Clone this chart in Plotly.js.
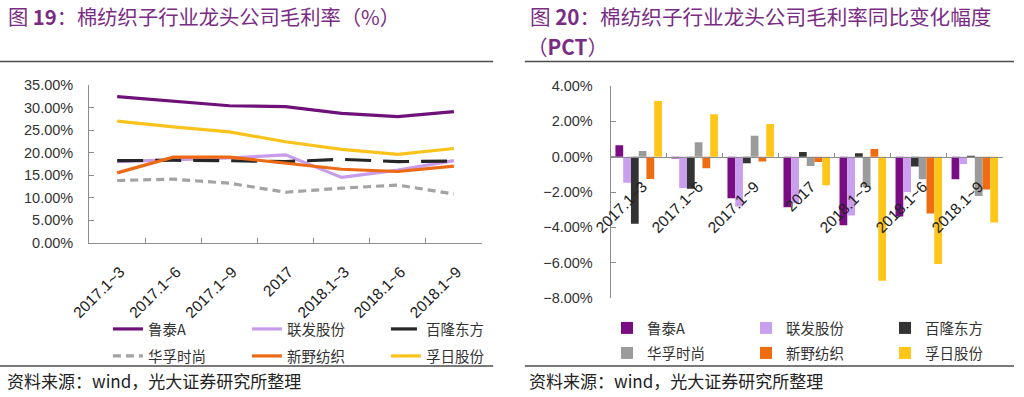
<!DOCTYPE html>
<html>
<head>
<meta charset="utf-8">
<script src="https://cdn.plot.ly/plotly-3.0.1.min.js"></script>
<style>html,body{margin:0;padding:0;background:#fff;}#chart{width:1024px;height:397px;}</style>
</head>
<body>
<div id="chart"></div>
<script>
// ---------- data ----------
const periods = ['2017.1~3', '2017.1~6', '2017.1~9', '2017', '2018.1~3', '2018.1~6', '2018.1~9'];
const companies = ['鲁泰A', '联发股份', '百隆东方', '华孚时尚', '新野纺织', '孚日股份'];

// gross margin (%)
const luTai  = [32.4, 31.4, 30.4, 30.2, 28.7, 28.0, 29.1];
const lianFa = [18.0, 18.4, 18.8, 19.5, 14.5, 16.1, 18.2];
const baiLong = [18.2, 18.3, 18.2, 18.0, 18.5, 18.0, 18.1];
const huaFu  = [13.8, 14.1, 13.2, 11.2, 12.1, 12.8, 10.8];
const xinYe  = [15.5, 19.0, 19.0, 17.6, 16.3, 15.8, 17.0];
const fuRi   = [27.0, 25.7, 24.6, 22.4, 20.7, 19.6, 20.9];

// YoY change of gross margin (pct)
const luTaiChg  = [0.65, -0.11, -2.35, -2.86, -3.88, -3.39, -1.28];
const lianFaChg = [-1.47, -1.78, -2.82, -2.63, -3.33, -2.00, -0.41];
const baiLongChg = [-3.80, -1.82, -0.37, 0.27, 0.20, -0.56, 0.05];
const huaFuChg  = [0.32, 0.81, 1.19, -0.53, -1.71, -1.28, -2.22];
const xinYeChg  = [-1.26, -0.66, -0.28, -0.30, 0.43, -3.22, -1.86];
const fuRiChg   = [3.15, 2.40, 1.85, -1.62, -7.02, -6.08, -3.73];

const titleLeft = '图 <b>19</b>：棉纺织子行业龙头公司毛利率（%）';
const titleRight1 = '图 <b>20</b>：棉纺织子行业龙头公司毛利率同比变化幅度';
const titleRight2 = '（<b>PCT</b>）';
const sourceText = '资料来源：wind，光大证券研究所整理';

// ---------- styling ----------
const W = 1024, H = 397;
const px = v => v / W;
const py = v => 1 - v / H;
const FONT = 'Liberation Sans, Arial, Noto Sans CJK SC, sans-serif';
const CJK = 'Noto Sans CJK SC, Liberation Sans, sans-serif';
const lineColors = ['#6E1279', '#C89CEB', '#262626', '#A3A3A3', '#EC6A14', '#F9C31B'];
const barColors  = ['#7A0C84', '#C9A0EE', '#333333', '#9B9B9B', '#EF6C10', '#FFC61A'];
const lineDash = ['solid', 'solid', '26px,12px', '8px,5px', 'solid', 'solid'];
const lineSeries = [luTai, lianFa, baiLong, huaFu, xinYe, fuRi];
const barSeries = [luTaiChg, lianFaChg, baiLongChg, huaFuChg, xinYeChg, fuRiChg];

const traces = [];
lineSeries.forEach((ys, i) => {
  traces.push({
    type: 'scatter', mode: 'lines', name: companies[i],
    x: periods, y: ys, xaxis: 'x', yaxis: 'y',
    line: {color: lineColors[i], width: 3.2, dash: lineDash[i]},
    legend: i < 3 ? 'legend' : 'legend2',
    hoverinfo: 'skip'
  });
});
barSeries.forEach((ys, i) => {
  traces.push({
    type: 'bar', name: companies[i],
    x: periods, y: ys, xaxis: 'x2', yaxis: 'y2',
    marker: {color: barColors[i]},
    legend: i < 3 ? 'legend3' : 'legend4',
    hoverinfo: 'skip'
  });
});

const axisColor = '#8C8C8C';
const tickFont = {family: FONT, size: 14.5, color: '#333333'};
const xTickFont = {family: FONT, size: 15.5, color: '#222222'};

const yDomL = [py(242.7), py(85)];
const yDomR = [py(298), py(86)];
const zeroPos = yDomR[0] + (8 / 12) * (yDomR[1] - yDomR[0]);

function legendCfg(x, y) {
  return {
    orientation: 'h', x: x, y: y, xanchor: 'left', yanchor: 'middle',
    font: {family: CJK, size: 14.5, color: '#333333'},
    bgcolor: 'rgba(0,0,0,0)', borderwidth: 0,
    entrywidth: 94, entrywidthmode: 'pixels', traceorder: 'normal'
  };
}

const layout = {
  width: W, height: H,
  margin: {l: 0, r: 0, t: 0, b: 0},
  paper_bgcolor: '#ffffff', plot_bgcolor: 'rgba(0,0,0,0)',
  font: {family: FONT, color: '#333333'},
  barmode: 'group', bargap: 0.17, bargroupgap: 0,
  xaxis: {
    domain: [px(90), px(486.7)], anchor: 'y', type: 'category', range: [-0.5, 6.5],
    showline: true, linecolor: axisColor, linewidth: 1,
    ticks: 'inside', ticklen: 5, tickcolor: axisColor, tickson: 'boundaries',
    tickangle: -45, tickfont: xTickFont, ticklabelstandoff: 13, ticklabelshift: 3,
    showgrid: false, zeroline: false, fixedrange: true
  },
  yaxis: {
    domain: yDomL, anchor: 'x', range: [0, 35], dtick: 5,
    tickformat: '.2f', ticksuffix: '%',
    showline: true, linecolor: axisColor, linewidth: 1,
    ticks: 'inside', ticklen: 5, tickcolor: axisColor,
    tickfont: tickFont, ticklabelstandoff: 12,
    showgrid: false, zeroline: false, fixedrange: true
  },
  xaxis2: {
    domain: [px(616.7), px(1012.7)], anchor: 'free', position: zeroPos, type: 'category', range: [-0.5, 6.5],
    showline: true, linecolor: axisColor, linewidth: 1,
    ticks: 'inside', ticklen: 4, tickcolor: axisColor, tickson: 'boundaries',
    tickangle: -45, tickfont: xTickFont, ticklabelstandoff: 14, ticklabelshift: 4,
    showgrid: false, zeroline: false, fixedrange: true
  },
  yaxis2: {
    domain: yDomR, anchor: 'x2', range: [-8, 4], dtick: 2,
    tickformat: '.2f', ticksuffix: '%',
    showline: true, linecolor: axisColor, linewidth: 1,
    ticks: 'inside', ticklen: 5, tickcolor: axisColor,
    tickfont: tickFont, ticklabelstandoff: 14,
    showgrid: false, zeroline: false, fixedrange: true
  },
  legend: legendCfg(px(109), py(329)),
  legend2: legendCfg(px(109), py(356)),
  legend3: legendCfg(px(613), py(328)),
  legend4: legendCfg(px(613), py(353)),
  shapes: [
    {type: 'line', xref: 'paper', yref: 'paper', x0: 0, x1: px(498), y0: py(61.5), y1: py(61.5), line: {color: '#4D4D4D', width: 1.5}},
    {type: 'line', xref: 'paper', yref: 'paper', x0: 0, x1: px(498), y0: py(366), y1: py(366), line: {color: '#4D4D4D', width: 1.5}},
    {type: 'line', xref: 'paper', yref: 'paper', x0: px(530), x1: 1, y0: py(61.5), y1: py(61.5), line: {color: '#4D4D4D', width: 1.5}},
    {type: 'line', xref: 'paper', yref: 'paper', x0: px(530), x1: 1, y0: py(366), y1: py(366), line: {color: '#4D4D4D', width: 1.5}}
  ],
  annotations: [
    {text: titleLeft, xref: 'paper', yref: 'paper', x: px(6), y: py(16), xanchor: 'left', yanchor: 'middle', showarrow: false,
     font: {family: CJK, size: 20.3, color: '#7A2C84'}},
    {text: titleRight1, xref: 'paper', yref: 'paper', x: px(533), y: py(16), xanchor: 'left', yanchor: 'middle', showarrow: false,
     font: {family: CJK, size: 20.6, color: '#7A2C84'}},
    {text: titleRight2, xref: 'paper', yref: 'paper', x: px(530), y: py(46), xanchor: 'left', yanchor: 'middle', showarrow: false,
     font: {family: CJK, size: 20.6, color: '#7A2C84'}},
    {text: sourceText, xref: 'paper', yref: 'paper', x: px(5), y: py(380), xanchor: 'left', yanchor: 'middle', showarrow: false,
     font: {family: CJK, size: 17, color: '#222222'}},
    {text: sourceText, xref: 'paper', yref: 'paper', x: px(532), y: py(380), xanchor: 'left', yanchor: 'middle', showarrow: false,
     font: {family: CJK, size: 17, color: '#222222'}}
  ]
};

Plotly.newPlot('chart', traces, layout, {staticPlot: true, displayModeBar: false});
</script>
</body>
</html>
